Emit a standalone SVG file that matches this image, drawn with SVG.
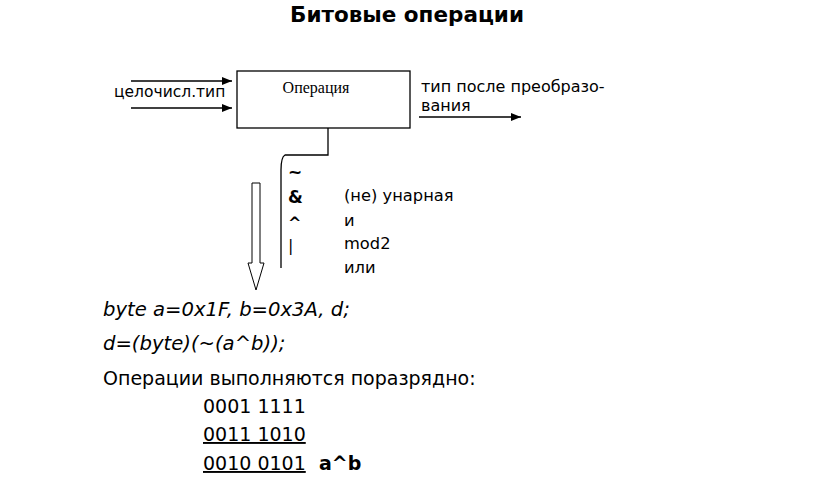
<svg xmlns="http://www.w3.org/2000/svg" width="816" height="477" viewBox="0 0 816 477">
<style>
.t{font-family:"DejaVu Sans",Verdana,sans-serif;fill:#000}
.ln{stroke:#000;stroke-width:1.3;fill:none}
</style>
<defs>
<marker id="ah" markerWidth="10" markerHeight="8" refX="10" refY="4" orient="auto" markerUnits="userSpaceOnUse">
<path d="M0,0 L10,4 L0,8 Z" fill="#000"/>
</marker>
</defs>
<rect width="816" height="477" fill="#fff"/>
<text class="t" x="407" y="22" font-size="21.5" font-weight="bold" text-anchor="middle">Битовые операции</text>
<g id="op-box">
<rect x="237" y="71" width="173" height="57" fill="#fff" stroke="#000" stroke-width="1.3"/>
<text x="316" y="93" font-family="Liberation Serif,serif" font-size="16" text-anchor="middle">Операция</text>
</g>
<g id="connectors">
<line class="ln" x1="131" y1="81" x2="232" y2="81" marker-end="url(#ah)"/>
<line class="ln" x1="131" y1="108" x2="232" y2="108" marker-end="url(#ah)"/>
<line class="ln" x1="419" y1="117" x2="521" y2="117" marker-end="url(#ah)"/>
<path class="ln" d="M328,128 V155 H285 Q281,157 281,170 V268"/>
<path d="M252,183 H260 V263 H264 L256,290 L248,263 H252 Z" fill="#fff" stroke="#000" stroke-width="1"/>
</g>
<g id="labels">
<text class="t" x="114" y="97" font-size="15.5">целочисл.тип</text>
<text class="t" x="421" y="92" font-size="16">тип после преобразо-</text>
<text class="t" x="421" y="111" font-size="16">вания</text>
<text class="t" x="288" y="178" font-size="17" font-weight="bold">~</text>
<text class="t" x="288" y="203" font-size="17" font-weight="bold">&amp;</text>
<text class="t" x="288" y="228" font-size="16" font-weight="bold">^</text>
<text class="t" x="288" y="251" font-size="16">|</text>
<text class="t" x="344" y="201" font-size="16.3">(не) унарная</text>
<text class="t" x="344" y="226" font-size="16.3">и</text>
<text class="t" x="344" y="249" font-size="16.3">mod2</text>
<text class="t" x="344" y="273" font-size="16.3">или</text>
</g>
<g id="code">
<text class="t" x="103" y="316" font-size="19.6" font-style="italic">byte a=0x1F, b=0x3A, d;</text>
<text class="t" x="103" y="350" font-size="19.6" font-style="italic">d=(byte)(~(a^b));</text>
<text class="t" x="103" y="385" font-size="19">Операции выполняются поразрядно:</text>
<text class="t" x="203" y="413" font-size="19">0001 1111</text>
<text class="t" x="203" y="441" font-size="19" text-decoration="underline">0011 1010</text>
<text class="t" x="203" y="470" font-size="19" text-decoration="underline">0010 0101</text>
<text class="t" x="319" y="470" font-size="19" font-weight="bold">a^b</text>
</g>
</svg>
